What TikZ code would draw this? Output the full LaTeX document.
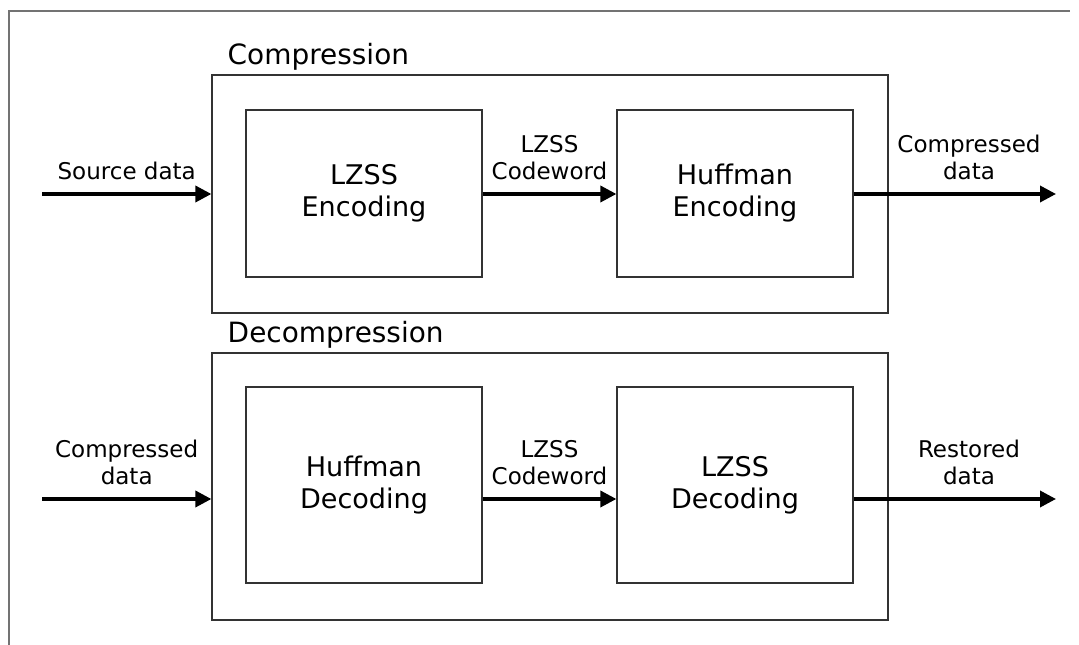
\documentclass[tikz,border=0pt]{standalone}
\usepackage{fontspec}
\setmainfont{DejaVu Sans}
\usetikzlibrary{arrows.meta,positioning}
\tikzset{
  frame/.style={draw=black!55, line width=0.7pt},
  stage/.style={draw=black!80, line width=0.7pt, minimum width=13.52cm},
  block/.style={draw=black!80, line width=0.7pt, minimum width=4.72cm, align=center,
    font=\fontsize{15.4}{18.2}\selectfont},
  stagetitle/.style={anchor=base west, inner sep=0pt, font=\fontsize{15.9}{19}\selectfont},
  flow/.style={line width=2pt, -{Triangle[length=0.32cm,width=0.32cm]}},
  lbl/.style={above=0.24cm, inner sep=0pt, align=center,
    font=\fontsize{13.1}{15.4}\selectfont}
}
\begin{document}
\begin{tikzpicture}
\useasboundingbox (0,0) rectangle (21.58,12.9);
\draw[frame] (0.18,0) -- (0.18,12.68) -- (21.4,12.68);

\node[stage, minimum height=4.76cm] (compbox) at (11.0,9.02) {};
\node[stagetitle] (comptitle) at ([xshift=0.32cm,yshift=0.2cm]compbox.north west) {Compression};
\node[block, minimum height=3.34cm] (lzssenc) at (7.28,9.03) {LZSS\\Encoding};
\node[block, minimum height=3.34cm] (huffenc) at (14.70,9.03) {Huffman\\Encoding};
\coordinate (srcin) at (0.84,9.02);
\coordinate (compout) at (21.12,9.02);

\node[stage, minimum height=5.34cm] (decompbox) at (11.0,3.17) {};
\node[stagetitle] (decomptitle) at ([xshift=0.32cm,yshift=0.2cm]decompbox.north west) {Decompression};
\node[block, minimum height=3.92cm] (huffdec) at (7.28,3.2) {Huffman\\Decoding};
\node[block, minimum height=3.92cm] (lzssdec) at (14.70,3.2) {LZSS\\Decoding};
\coordinate (compin) at (0.84,2.92);
\coordinate (restout) at (21.12,2.92);

\draw[flow] (srcin) -- (srcin -| compbox.west) node[lbl, midway] {Source data};
\draw[flow] (lzssenc.east |- srcin) -- (huffenc.west |- srcin) node[lbl, midway] {LZSS\\Codeword};
\draw[flow] (huffenc.east |- compout) -- (compout) node[lbl, pos=0.57] {Compressed\\data};

\draw[flow] (compin) -- (compin -| decompbox.west) node[lbl, midway] {Compressed\\data};
\draw[flow] (huffdec.east |- compin) -- (lzssdec.west |- compin) node[lbl, midway] {LZSS\\Codeword};
\draw[flow] (lzssdec.east |- restout) -- (restout) node[lbl, pos=0.57] {Restored\\data};
\end{tikzpicture}
\end{document}
